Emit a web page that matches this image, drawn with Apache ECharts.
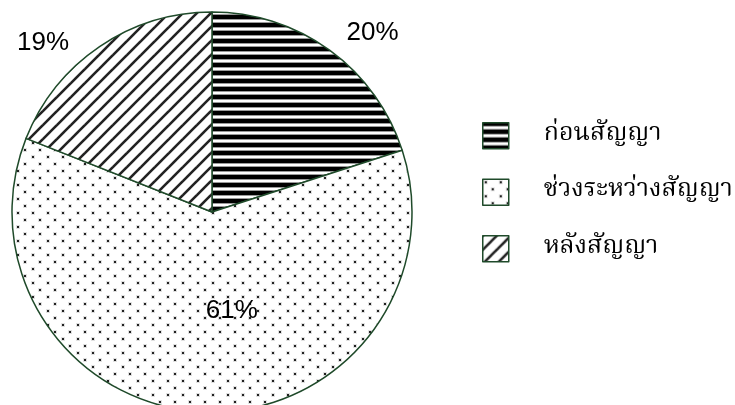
<!DOCTYPE html>
<html>
<head>
<meta charset="utf-8">
<script src="https://cdn.jsdelivr.net/npm/echarts@6/dist/echarts.min.js"></script>
<style>
  html, body { margin: 0; padding: 0; background: #ffffff; }
  #chart { width: 735px; height: 405px; }
</style>
</head>
<body>
<div id="chart"></div>
<script>
// Share of cases by contract period (percent)
const categories = ['ก่อนสัญญา', 'ช่วงระหว่างสัญญา', 'หลังสัญญา'];
const shares = [20, 61, 19];

// Hatch fills drawn on small canvases and tiled by the renderer
function makeTile(w, h, draw) {
  const c = document.createElement('canvas');
  c.width = w; c.height = h;
  const ctx = c.getContext('2d');
  ctx.fillStyle = '#ffffff';
  ctx.fillRect(0, 0, w, h);
  draw(ctx, w, h);
  return { image: c, repeat: 'repeat' };
}

// black with thin white horizontal lines
const stripeFill = makeTile(8, 8, (ctx) => {
  ctx.fillStyle = '#000000';
  ctx.fillRect(0, 0, 8, 8);
  ctx.fillStyle = '#9a9a9a';
  ctx.fillRect(0, 3, 8, 1);
  ctx.fillRect(0, 6, 8, 1);
  ctx.fillStyle = '#ffffff';
  ctx.fillRect(0, 4, 8, 2);
});

// staggered small dots on white
const dotFill = makeTile(15, 14, (ctx) => {
  ctx.fillStyle = 'rgba(0,0,0,0.12)';
  ctx.fillRect(1, 1, 4, 4);
  ctx.fillRect(8, 8, 4, 4);
  ctx.fillStyle = '#222222';
  ctx.fillRect(2, 2, 2, 2);
  ctx.fillRect(9, 9, 2, 2);
});

// forward diagonal lines on white
const diagFill = makeTile(14, 14, (ctx) => {
  ctx.strokeStyle = '#222222';
  ctx.lineWidth = 2.6;
  [0, 14, 28].forEach((k) => {
    ctx.beginPath();
    ctx.moveTo(k - 16, 16);
    ctx.lineTo(k + 2, -2);
    ctx.stroke();
  });
});

const fills = [stripeFill, dotFill, diagFill];
// label nudges from the in-slice anchor to where each percentage sits
const labelOffsets = [[100, -96], [23, -4], [-111, -84]];

const chart = echarts.init(document.getElementById('chart'), null, { renderer: 'canvas' });

chart.setOption({
  animation: false,
  backgroundColor: '#ffffff',
  legend: {
    orient: 'vertical',
    left: 482,
    top: 122,
    padding: 0,
    itemWidth: 26,
    itemHeight: 26,
    itemGap: 29,
    icon: 'rect',
    selectedMode: false,
    itemStyle: { borderColor: '#1f4a2a', borderWidth: 1.5 },
    textStyle: {
      fontFamily: '"Noto Serif Thai", "Noto Sans Thai", serif',
      fontSize: 25,
      color: '#000000',
      lineHeight: 26,
      padding: [0, 0, 0, 30]
    },
    data: categories
  },
  series: [{
    type: 'pie',
    center: [212, 212],
    radius: [0, 200],
    startAngle: 90,
    clockwise: true,
    silent: true,
    itemStyle: { borderColor: '#1f4a2a', borderWidth: 1.5 },
    label: {
      show: true,
      position: 'inside',
      formatter: '{c}%',
      fontFamily: '"Liberation Sans", Arial, sans-serif',
      fontSize: 26,
      color: '#000000'
    },
    labelLine: { show: false },
    emphasis: { disabled: true },
    data: categories.map((name, i) => ({
      name: name,
      value: shares[i],
      itemStyle: { color: fills[i] },
      label: { offset: labelOffsets[i] }
    }))
  }]
});
</script>
</body>
</html>
